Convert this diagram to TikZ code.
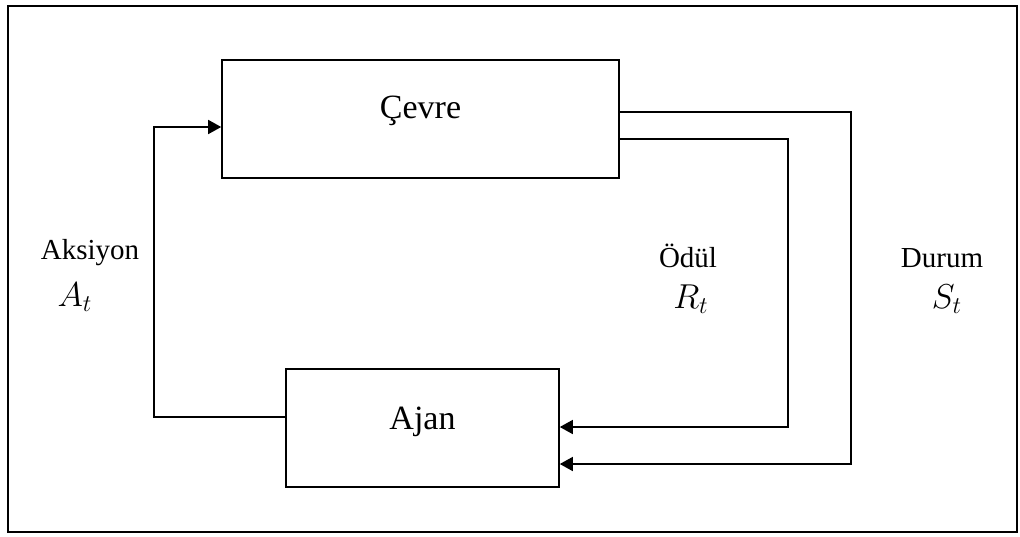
\documentclass[tikz,border=0pt]{standalone}
\usepackage{fontspec}
\setmainfont{Liberation Serif}
\usetikzlibrary{arrows.meta,positioning}

\begin{document}
\begin{tikzpicture}[
    x=0.5pt, y=-0.5pt,
    block/.style={rectangle, draw, line width=0.8pt, inner sep=0pt, minimum height=59pt, font=\fontsize{17}{20}\selectfont, text height=11pt},
    lbl/.style={anchor=base, font=\fontsize{14.5}{17}\selectfont},
    sym/.style={anchor=base, font=\fontsize{17.5}{20}\selectfont},
    arr/.style={line width=0.8pt, -{Triangle[length=6.5pt,width=7pt]}}
]
\useasboundingbox (0,0) rectangle (1020,536);
\draw[line width=1.2pt] (8,6) rectangle (1017,532);

% Main blocks
\node[block, minimum width=198.5pt, text depth=12pt] (cevre) at (420.5,119) {Çevre};
\node[block, minimum width=136.5pt, text depth=10pt] (ajan) at (422.5,428) {Ajan};

% Corner points
\coordinate (aks) at (154,417);
\coordinate (aks2) at (154,127);
\coordinate (odul) at (788,139);
\coordinate (odul2) at (788,427);
\coordinate (durum) at (851,112);
\coordinate (durum2) at (851,464);

% Arrows
\draw[arr] (ajan.west |- aks) -- (aks) -- (aks2) -- (cevre.west |- aks2);
\draw[arr] (cevre.east |- odul) -- (odul) -- (odul2) -- (ajan.east |- odul2);
\draw[arr] (cevre.east |- durum) -- (durum) -- (durum2) -- (ajan.east |- durum2);

% Labels
\node[lbl] (aksiyonLbl) at (90,259) {Aksiyon};
\node[sym] (aSym) at (75,306) {$A_t$};
\node[lbl] (odulLbl) at (688,267) {Ödül};
\node[sym] (rSym) at (691,308) {$R_t$};
\node[lbl] (durumLbl) at (942,267) {Durum};
\node[sym] (sSym) at (947,308) {$S_t$};

\end{tikzpicture}
\end{document}
